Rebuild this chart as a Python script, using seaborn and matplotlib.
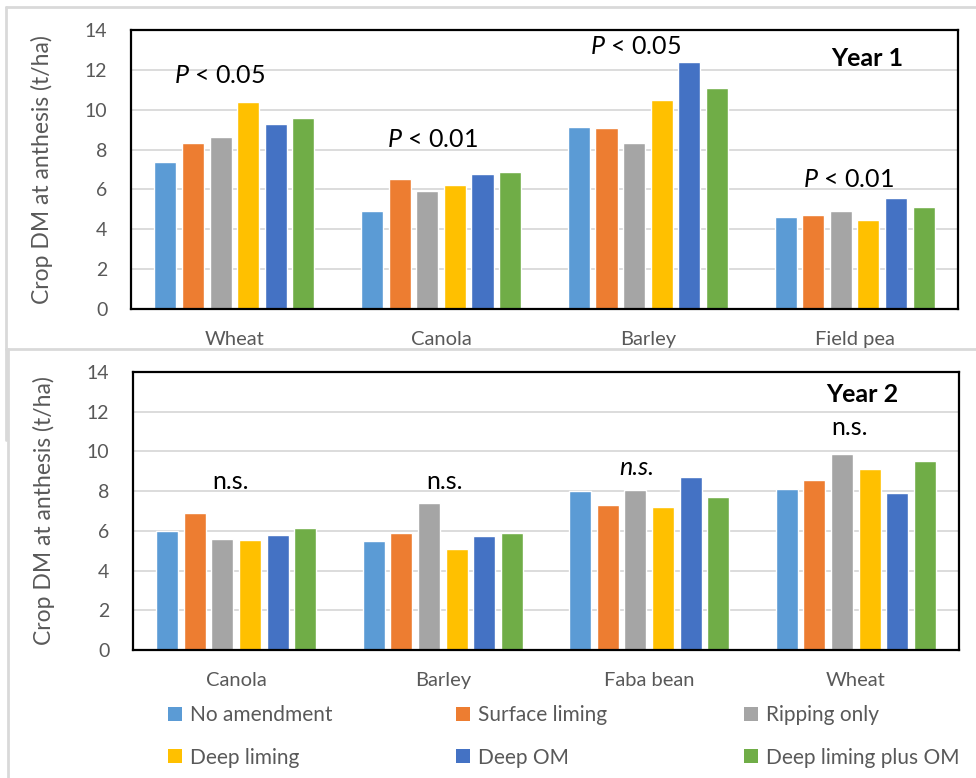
import numpy as np
import pandas as pd
import matplotlib
matplotlib.use("Agg")
import matplotlib.pyplot as plt
from matplotlib.lines import Line2D
from matplotlib.patches import Patch
import seaborn as sns

# ---- data -------------------------------------------------------------
treatments = ["No amendment", "Surface liming", "Ripping only",
              "Deep liming", "Deep OM", "Deep liming plus OM"]
palette = ["#5B9BD5", "#ED7D31", "#A5A5A5", "#FFC000", "#4472C4", "#70AD47"]

# Year 1 crop dry matter at anthesis (t/ha), one list per crop in treatment order
crops_y1 = ["Wheat", "Canola", "Barley", "Field pea"]
y1_wheat = [7.4, 8.35, 8.65, 10.4, 9.3, 9.6]
y1_canola = [4.9, 6.5, 5.9, 6.2, 6.75, 6.85]
y1_barley = [9.15, 9.1, 8.35, 10.5, 12.4, 11.1]
y1_fieldpea = [4.6, 4.7, 4.9, 4.45, 5.55, 5.1]
sig_y1 = ["P < 0.05", "P < 0.01", "P < 0.05", "P < 0.01"]

# Year 2
crops_y2 = ["Canola", "Barley", "Faba bean", "Wheat"]
y2_canola = [6.0, 6.9, 5.6, 5.55, 5.8, 6.15]
y2_barley = [5.5, 5.9, 7.4, 5.1, 5.75, 5.9]
y2_faba = [8.0, 7.3, 8.05, 7.2, 8.7, 7.7]
y2_wheat = [8.1, 8.55, 9.85, 9.1, 7.9, 9.5]
sig_y2 = ["n.s.", "n.s.", "n.s.", "n.s."]

yticks = [0, 2, 4, 6, 8, 10, 12, 14]


def long_table(crops, rows):
    recs = []
    for crop, vals in zip(crops, rows):
        for trt, v in zip(treatments, vals):
            recs.append({"crop": crop, "treatment": trt, "dm": v})
    return pd.DataFrame(recs)


df1 = long_table(crops_y1, [y1_wheat, y1_canola, y1_barley, y1_fieldpea])
df2 = long_table(crops_y2, [y2_canola, y2_barley, y2_faba, y2_wheat])

# ---- styling ----------------------------------------------------------
sns.set_style("white")
FONT = "Lato"
plt.rcParams["font.family"] = [FONT, "DejaVu Sans"]
plt.rcParams["mathtext.fontset"] = "custom"
plt.rcParams["mathtext.rm"] = FONT
plt.rcParams["mathtext.it"] = FONT + ":italic"

GREY_TXT = "#595959"
GRID = "#D9D9D9"
W, H = 976, 778

fig = plt.figure(figsize=(W / 100, H / 100), dpi=100)


def px_axes(left, top, right, bottom):
    return fig.add_axes([left / W, 1 - bottom / H, (right - left) / W, (bottom - top) / H])


ax1 = px_axes(131, 30, 958, 309)
ax2 = px_axes(133, 372, 959, 650)

for ax, df, order in ((ax1, df1, crops_y1), (ax2, df2, crops_y2)):
    sns.barplot(data=df, x="crop", y="dm", hue="treatment", order=order,
                hue_order=treatments, palette=palette, width=0.8, gap=0.2,
                saturation=1, errorbar=None, legend=False, ax=ax)
    ax.set_ylim(0, 14)
    ax.set_xlim(-0.5, 3.5)
    ax.set_yticks(yticks)
    ax.yaxis.grid(True, color=GRID, linewidth=1.3)
    ax.set_axisbelow(True)
    for s in ax.spines.values():
        s.set_visible(True)
        s.set_color("black")
        s.set_linewidth(1.6)
    ax.tick_params(axis="y", length=0, pad=17, labelsize=14, labelcolor=GREY_TXT)
    ax.tick_params(axis="x", length=0, pad=16, labelsize=14.5, labelcolor=GREY_TXT)
    ax.set_xlabel("")
    ax.set_ylabel("Crop DM at anthesis (t/ha)", fontsize=16.5, color=GREY_TXT)
    ax.yaxis.set_label_coords(-0.094, 0.5)

# significance labels, year 1 (italic P)
ann1_x = [-0.07, 0.96, 1.94, 2.97]
ann1_y = [11.32, 8.14, 12.8, 6.14]
for x, y, lab in zip(ann1_x, ann1_y, sig_y1):
    ax1.text(x, y, lab.replace("P", "$P$"), ha="center", va="baseline",
             fontsize=18, color="black")
ax1.text(3.06, 12.19, "Year 1", ha="center", va="baseline",
         fontsize=18, fontweight="bold", color="black")

# significance labels, year 2
ann2_x = [-0.03, 1.01, 1.94, 2.97]
ann2_y = [8.11, 8.11, 8.81, 10.83]
ann2_style = ["normal", "normal", "italic", "normal"]
for x, y, lab, st in zip(ann2_x, ann2_y, sig_y2, ann2_style):
    ax2.text(x, y, lab, ha="center", va="baseline", fontsize=18,
             style=st, color="black")
ax2.text(3.03, 12.5, "Year 2", ha="center", va="baseline",
         fontsize=18, fontweight="bold", color="black")

# panel frames
def fig_line(x0, y0, x1, y1):
    fig.add_artist(Line2D([x0 / W, x1 / W], [1 - y0 / H, 1 - y1 / H],
                          transform=fig.transFigure, color=GRID, linewidth=2))

fig_line(6, 7, W, 7)
fig_line(6, 7, 6, 440)
fig_line(6, 349, W, 349)
fig_line(8, 349, 8, H)

# legend: three columns of two entries
handles = [Patch(facecolor=c, edgecolor="none") for c in palette]
columns = [(0, 3), (1, 4), (2, 5)]
col_x = [168, 456, 744]
for (a, b), x in zip(columns, col_x):
    fig.legend([handles[a], handles[b]], [treatments[a], treatments[b]],
               loc="upper left", bbox_to_anchor=(x / W, 1 - 705 / H),
               frameon=False, fontsize=15, handlelength=0.65, handleheight=0.65,
               handletextpad=0.4, labelspacing=1.08, borderpad=0,
               borderaxespad=0, labelcolor=GREY_TXT)

fig.savefig("out.png", dpi=100, facecolor="white")
